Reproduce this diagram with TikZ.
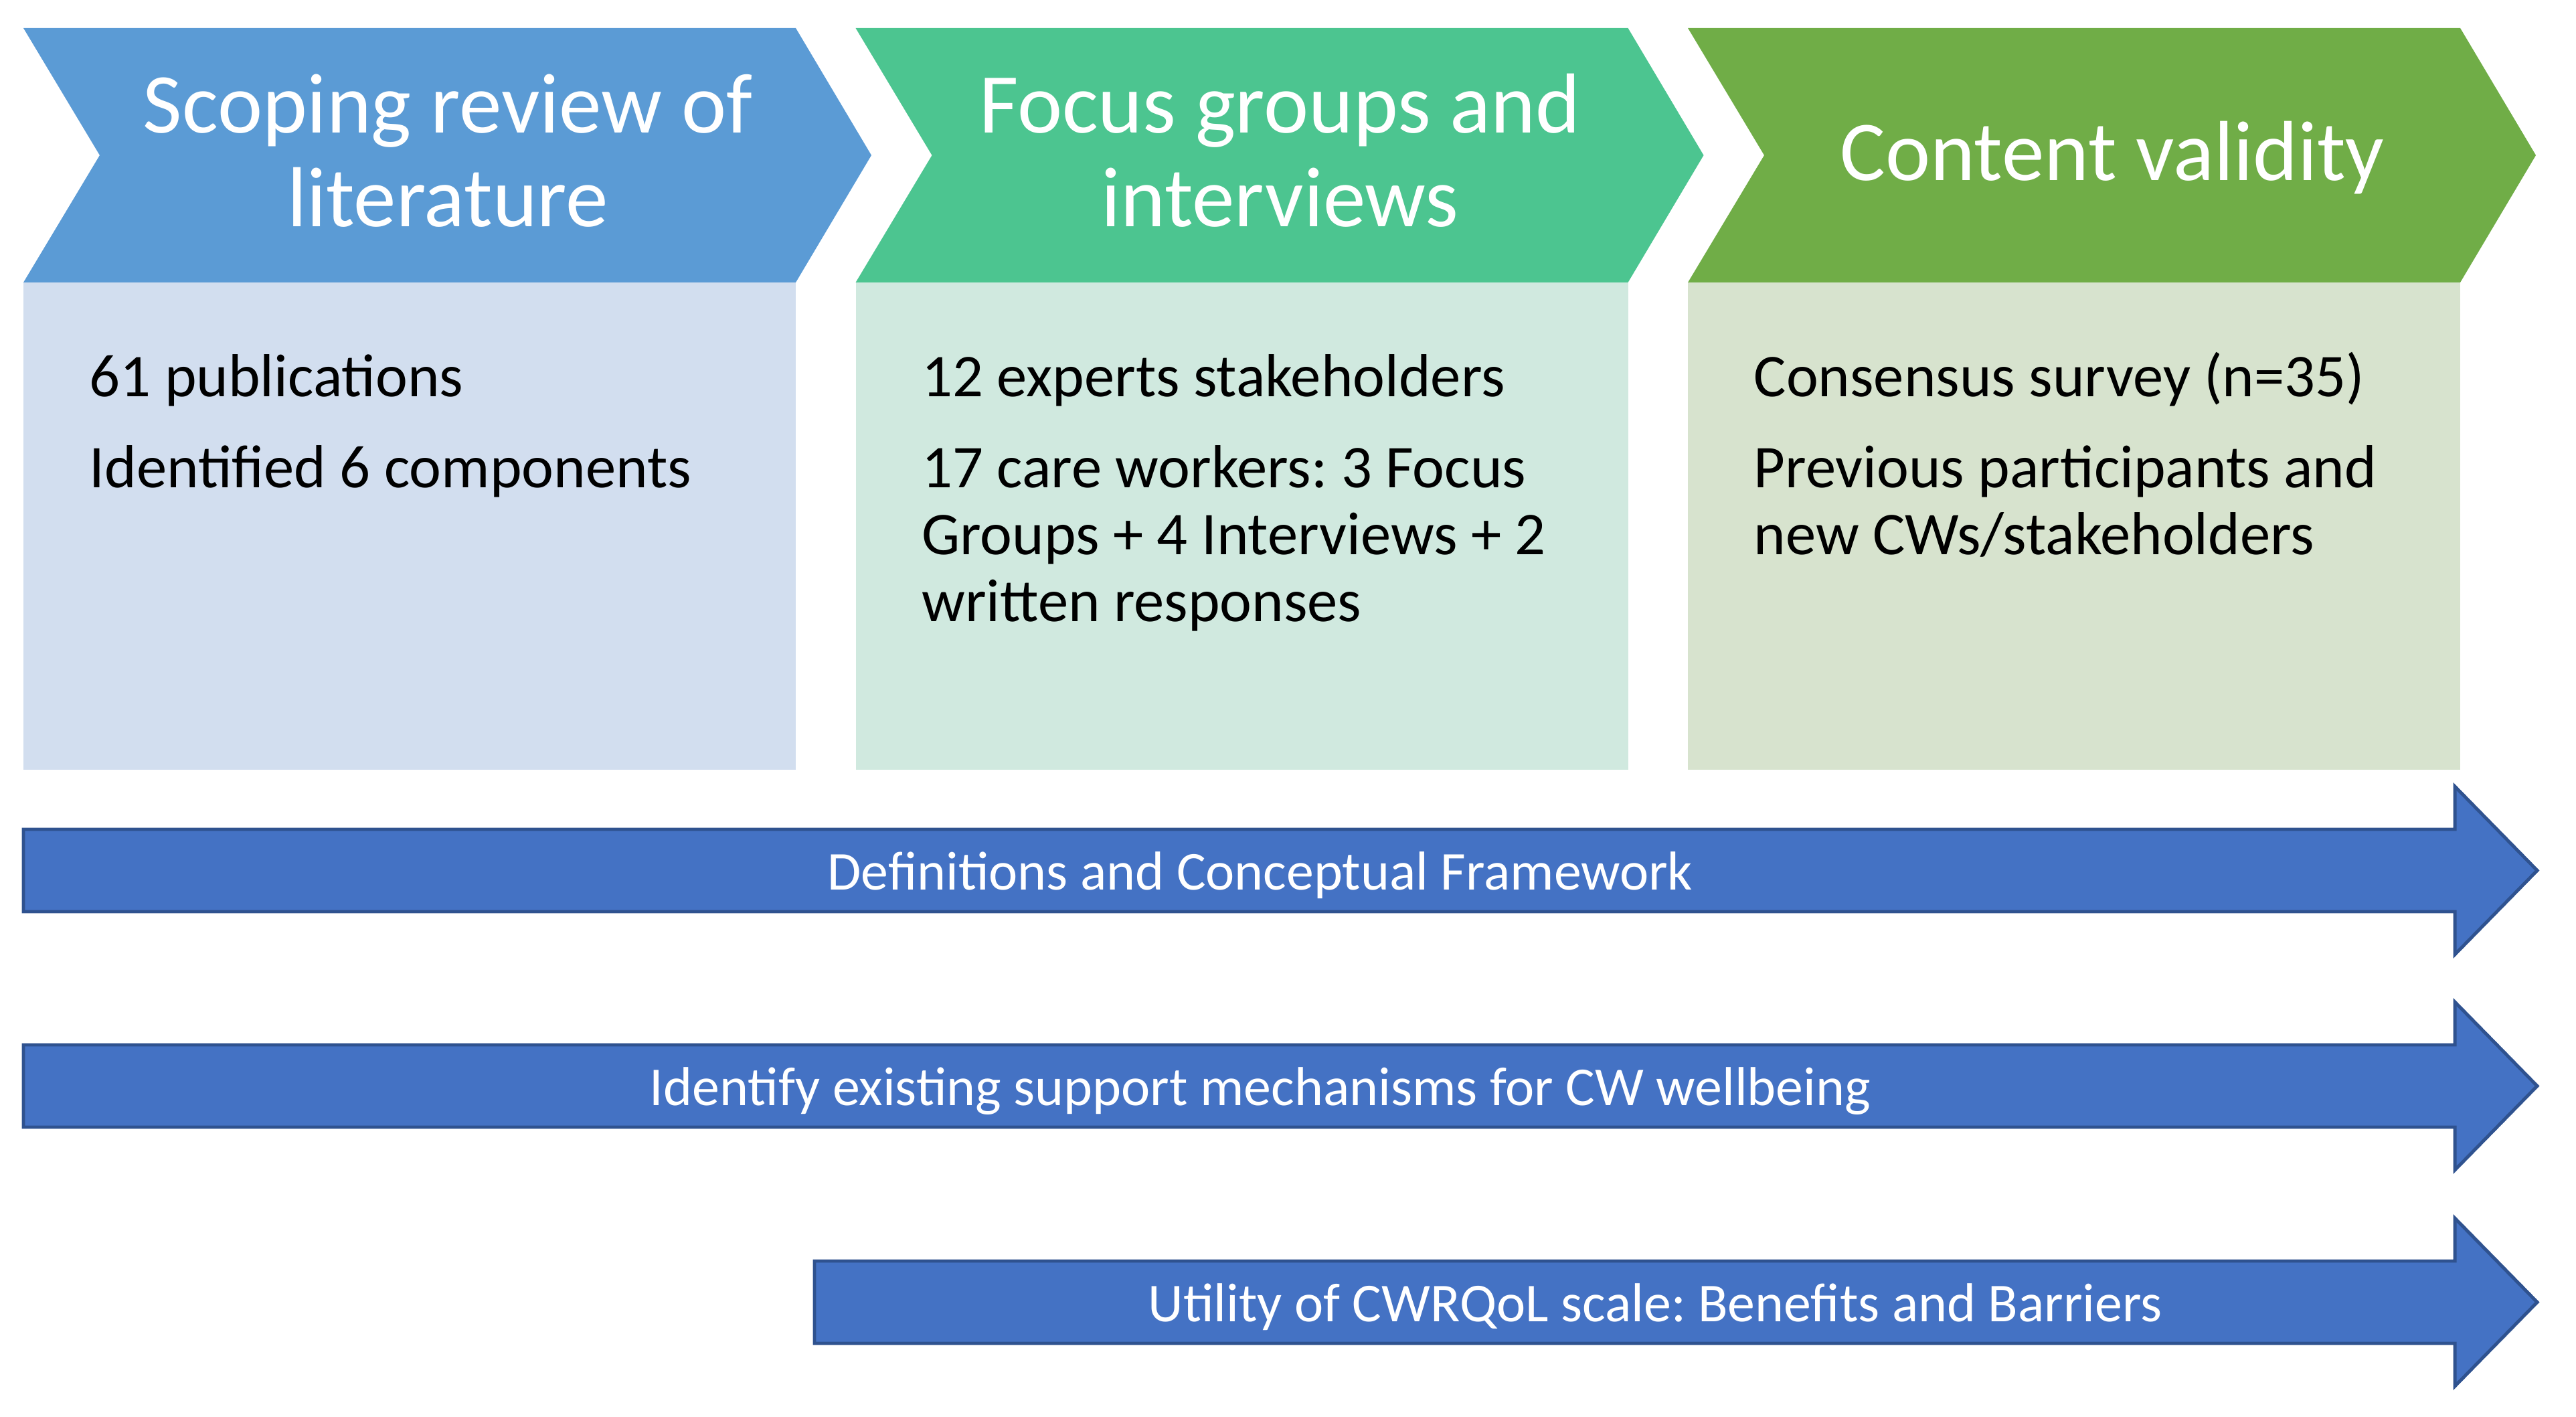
\documentclass[tikz,border=0pt]{standalone}
\usepackage{fontspec}
\setmainfont{Carlito}
\usetikzlibrary{positioning}
\usepackage{xcolor}
\frenchspacing

\definecolor{scopehead}{HTML}{5B9BD5}
\definecolor{scopebody}{HTML}{D2DEEF}
\definecolor{focushead}{HTML}{4CC590}
\definecolor{focusbody}{HTML}{D0E9DF}
\definecolor{validhead}{HTML}{70AD47}
\definecolor{validbody}{HTML}{D7E3CE}
\definecolor{arrowfill}{HTML}{4472C4}
\definecolor{arrowedge}{HTML}{2F528F}

\tikzset{
stagetitle/.style={white, anchor=base, inner sep=0pt, text width=11cm, align=flush center, font=\fontsize{36.2}{39.8}\selectfont},
stagetext/.style={black, anchor=base west, inner sep=0pt, text width=10.4cm, align=flush left, font=\fontsize{25.8}{28.45}\selectfont},
flowarrow/.style={fill=arrowfill, draw=arrowedge, line width=1.4pt},
arrowtext/.style={white, anchor=base, inner sep=0pt, font=\fontsize{23.3}{28}\selectfont}
}

\begin{document}
\begin{tikzpicture}

\useasboundingbox (0,0) rectangle (38.49,21.17);

\begin{scope}[xshift=0.35cm]
{
\fill[scopehead] (0,20.75)--++(11.54,0)--++(1.13,-1.9)--++(-1.13,-1.9)--++(-11.54,0)--++(1.14,1.9)--cycle;
\fill[scopebody] (0,16.95)--++(11.54,0)--++(0,-7.28)--++(-11.54,0)--cycle;

\node[stagetitle] (scopetitle) at (6.34,19.18) {Scoping review of\\literature};

\node[stagetext] (pubs) at (0.98,15.24) {61 publications};
\node[stagetext] (comps) at (0.98,13.88) {Identified 6 components};
}
\end{scope}

\begin{scope}[xshift=12.785cm]
{
\fill[focushead] (0,20.75)--++(11.54,0)--++(1.13,-1.9)--++(-1.13,-1.9)--++(-11.54,0)--++(1.14,1.9)--cycle;
\fill[focusbody] (0,16.95)--++(11.54,0)--++(0,-7.28)--++(-11.54,0)--cycle;

\node[stagetitle] (focustitle) at (6.34,19.18) {Focus groups and\\interviews};

\node[stagetext] (experts) at (0.98,15.24) {12 experts stakeholders};
\node[stagetext] (workers) at (0.98,13.88) {17 care workers: 3 Focus\\Groups + 4 Interviews + 2\\written responses};
}
\end{scope}

\begin{scope}[xshift=25.22cm]
{
\fill[validhead] (0,20.75)--++(11.54,0)--++(1.13,-1.9)--++(-1.13,-1.9)--++(-11.54,0)--++(1.14,1.9)--cycle;
\fill[validbody] (0,16.95)--++(11.54,0)--++(0,-7.28)--++(-11.54,0)--cycle;

\node[stagetitle] (validtitle) at (6.34,18.47) {Content validity};

\node[stagetext] (survey) at (0.98,15.24) {Consensus survey (n=35)};
\node[stagetext] (newcw) at (0.98,13.88) {Previous participants and\\new CWs/stakeholders};
}
\end{scope}

% long arrows
\draw[flowarrow] (0.35,7.55)--++(36.33,0)--++(0,-0.64)--++(1.23,1.255)--++(-1.23,1.255)--++(0,-0.64)--++(-36.33,0)--cycle;
\draw[flowarrow] (0.35,4.33)--++(36.33,0)--++(0,-0.64)--++(1.23,1.255)--++(-1.23,1.255)--++(0,-0.64)--++(-36.33,0)--cycle;
\draw[flowarrow] (12.17,1.10)--++(24.51,0)--++(0,-0.64)--++(1.23,1.255)--++(-1.23,1.255)--++(0,-0.64)--++(-24.51,0)--cycle;

\node[arrowtext] (defs) at (18.83,7.875) {Definitions and Conceptual Framework};
\node[arrowtext] (support) at (18.83,4.655) {Identify existing support mechanisms for CW wellbeing};
\node[arrowtext] (utility) at (24.73,1.425) {Utility of CWRQoL scale: Benefits and Barriers};

\end{tikzpicture}
\end{document}
